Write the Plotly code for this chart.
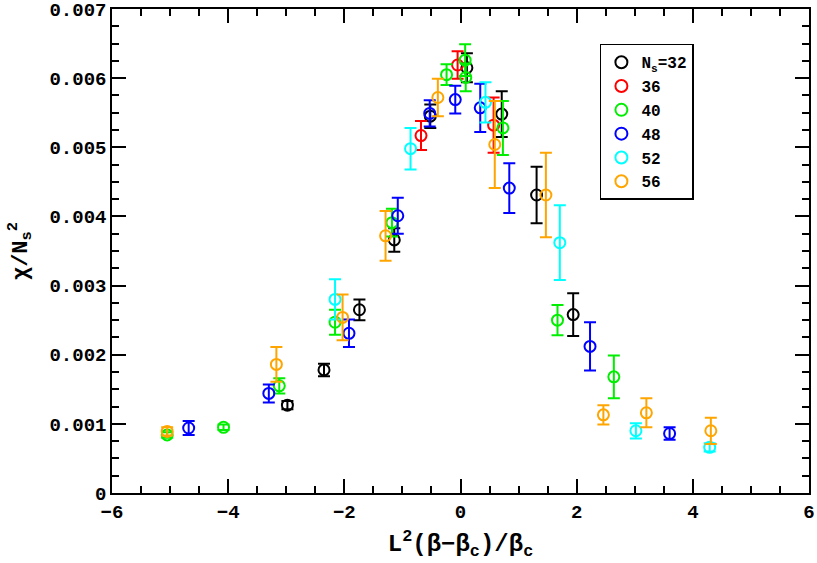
import plotly.graph_objects as go

# ---- data ----
x32 = [-2.98, -2.35, -1.74, -1.14, -0.52, 0.11, 0.71, 1.31, 1.94]
y32 = [0.00127, 0.00178, 0.00265, 0.00366, 0.00545, 0.00615, 0.00548, 0.00431, 0.00258]
e32 = [0.00006, 0.00009, 0.00015, 0.00017, 0.00017, 0.00021, 0.00033, 0.00041, 0.00031]

x36 = [-0.68, -0.05, 0.57]
y36 = [0.00517, 0.00619, 0.00532]
e36 = [0.00021, 0.00020, 0.00040]

x40 = [-5.05, -4.08, -3.12, -2.16, -1.18, -0.24, 0.08, 0.09, 0.73, 1.67, 2.64]
y40 = [0.00084, 0.00095, 0.00155, 0.00247, 0.00391, 0.00605, 0.00626, 0.00601, 0.00528, 0.00250, 0.00168]
e40 = [0.00004, 0.00004, 0.00011, 0.00018, 0.00020, 0.00015, 0.00023, 0.00020, 0.00039, 0.00022, 0.00031]

x48 = [-4.68, -3.30, -1.92, -1.08, -0.53, -0.09, 0.34, 0.84, 2.23, 3.60]
y48 = [0.00094, 0.00144, 0.00231, 0.00401, 0.00549, 0.00569, 0.00557, 0.00441, 0.00212, 0.00086]
e48 = [0.00010, 0.00013, 0.00020, 0.00026, 0.00019, 0.00020, 0.00035, 0.00036, 0.00035, 0.00009]

x52 = [-2.16, -0.86, 0.43, 1.71, 3.02, 4.29]
y52 = [0.00280, 0.00498, 0.00565, 0.00362, 0.00090, 0.00066]
e52 = [0.00029, 0.00030, 0.00029, 0.00054, 0.00011, 0.00006]

x56 = [-5.05, -3.17, -2.03, -1.29, -0.39, 0.59, 1.47, 2.46, 3.20, 4.31]
y56 = [0.00089, 0.00186, 0.00254, 0.00372, 0.00572, 0.00504, 0.00431, 0.00113, 0.00116, 0.00090]
e56 = [0.00006, 0.00025, 0.00033, 0.00036, 0.00027, 0.00063, 0.00061, 0.00014, 0.00021, 0.00019]

x_ticks = [-6, -4, -2, 0, 2, 4, 6]
y_ticks = [0, 0.001, 0.002, 0.003, 0.004, 0.005, 0.006, 0.007]
y_tick_text = ["0", "0.001", "0.002", "0.003", "0.004", "0.005", "0.006", "0.007"]

series = [
    ("N<sub>s</sub>=32", x32, y32, e32, "#000000"),
    ("36", x36, y36, e36, "#ff0000"),
    ("40", x40, y40, e40, "#00ee00"),
    ("48", x48, y48, e48, "#0000ff"),
    ("52", x52, y52, e52, "#00ffff"),
    ("56", x56, y56, e56, "#ffa500"),
]

FONT = "'Liberation Mono', 'Courier New', monospace"

fig = go.Figure()
for name, xs, ys, es, col in series:
    fig.add_trace(go.Scatter(
        x=xs, y=ys, mode="markers", name=name,
        marker=dict(symbol="circle-open", size=11, color=col, line=dict(width=2, color=col)),
        error_y=dict(type="data", array=es, visible=True, color=col, thickness=2, width=6),
    ))

axis_common = dict(
    showline=True, linecolor="black", linewidth=1.5, mirror="allticks",
    ticks="inside", ticklen=14, tickwidth=1.5, tickcolor="black",
    showgrid=False, zeroline=False, automargin=False,
    ticklabeloverflow="allow",
    tickfont=dict(family=FONT, size=19, color="black", weight="bold"),
)

fig.update_xaxes(
    range=[-6, 6], tickvals=x_ticks,
    minor=dict(dtick=0.5, ticklen=7, tickwidth=1.5, tickcolor="black", ticks="inside"),
    title=dict(text="L<sup>2</sup>(β−β<sub>c</sub>)/β<sub>c</sub>", standoff=12,
               font=dict(family=FONT, size=24, color="black", weight="bold")),
    **axis_common,
)
fig.update_yaxes(
    range=[0, 0.007], tickvals=y_ticks, ticktext=y_tick_text,
    minor=dict(dtick=0.00025, ticklen=7, tickwidth=1.5, tickcolor="black", ticks="inside"),
    title=dict(text="χ/N<sub>s</sub><sup>2</sup>", standoff=16,
               font=dict(family=FONT, size=22, color="black", weight="bold")),
    **axis_common,
)

fig.update_layout(
    width=817, height=563,
    margin=dict(l=112, r=8, t=9, b=70, autoexpand=False),
    paper_bgcolor="white", plot_bgcolor="white",
    showlegend=True,
    legend=dict(
        x=0.70, y=0.928, xanchor="left", yanchor="top",
        bordercolor="black", borderwidth=1.5, bgcolor="white",
        font=dict(family=FONT, size=16, color="black", weight="bold"),
        itemsizing="constant", tracegroupgap=0, itemwidth=30,
    ),
)

fig.write_html("out.html", config={"displayModeBar": False},
               post_script="document.body.style.margin='0';")
